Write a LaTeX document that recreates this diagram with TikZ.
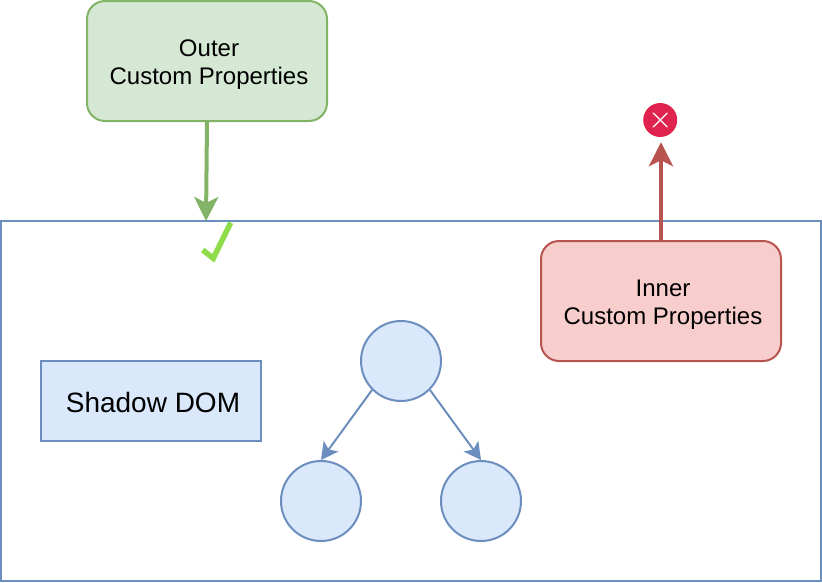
\documentclass[tikz,border=0pt]{standalone}
\usepackage{fontspec}
\setmainfont{Liberation Sans}
\usetikzlibrary{arrows.meta}
\definecolor{bluefill}{HTML}{DAE8FC}
\definecolor{bluedraw}{HTML}{6C8EBF}
\definecolor{greenfill}{HTML}{D5E8D4}
\definecolor{greendraw}{HTML}{82B366}
\definecolor{redfill}{HTML}{F8CECC}
\definecolor{reddraw}{HTML}{B85450}
\definecolor{crossred}{HTML}{E0234E}
\definecolor{tickgreen}{HTML}{8FDC4A}
\tikzset{
  x=1pt,y=-1pt,
  bluebox/.style={draw=bluedraw,line width=2pt,fill=bluefill,inner sep=0pt},
  propbox/.style={rounded corners=18pt,line width=2pt,minimum width=240pt,minimum height=120pt,inner sep=0pt,align=center,font=\fontsize{24}{28}\selectfont},
  treenode/.style={bluebox,circle,minimum size=80pt},
  bigarrow/.style={line width=4pt,-{Stealth[length=24pt,width=24pt,inset=6pt]}},
  treearrow/.style={draw=bluedraw,line width=2pt,-{Stealth[length=17pt,width=18pt,inset=4pt]}},
}
\begin{document}
\begin{tikzpicture}
\useasboundingbox (0,0) rectangle (822,582);
\node[draw=bluedraw,line width=2pt,minimum width=820pt,minimum height=360pt,inner sep=0pt] (shadow) at (411,401) {};
\node[propbox,draw=greendraw,fill=greenfill] (outer) at (207,61) {\rule{0pt}{23pt}\hspace*{4pt}Outer\\\hspace*{4pt}Custom Properties};
\node[propbox,draw=reddraw,fill=redfill] (inner) at (661,301) {\rule{0pt}{23pt}\hspace*{4pt}Inner\\\hspace*{4pt}Custom Properties};
\node[bluebox,minimum width=220pt,minimum height=80pt,font=\fontsize{28}{32}\selectfont] (label) at (151,401) {\rule{0pt}{24pt}\hspace*{4pt}Shadow DOM};
\node[treenode] (top) at (401,361) {};
\node[treenode] (left) at (321,501) {};
\node[treenode] (right) at (481,501) {};
\node[circle,fill=crossred,minimum size=34pt,inner sep=0pt] (cross) at (660.2,120) {};
\coordinate (entry) at (206,221);
\draw[bigarrow,draw=greendraw] (outer.south) -- (entry);
\draw[bigarrow,draw=reddraw] (inner.north) -- ([yshift=-5pt]inner.north |- cross.south);
\draw[treearrow] (top.225) -- (left.north);
\draw[treearrow] (top.315) -- (right.north);
\draw[white,line width=1.3pt,line cap=round] (cross.center)+(-7,-7) -- +(7,7) (cross.center)+(7,-7) -- +(-7,7);
\draw[tickgreen,line width=5.5pt] (202.7,250) -- (213.3,258.3) -- (230.7,222.7);
\end{tikzpicture}
\end{document}
